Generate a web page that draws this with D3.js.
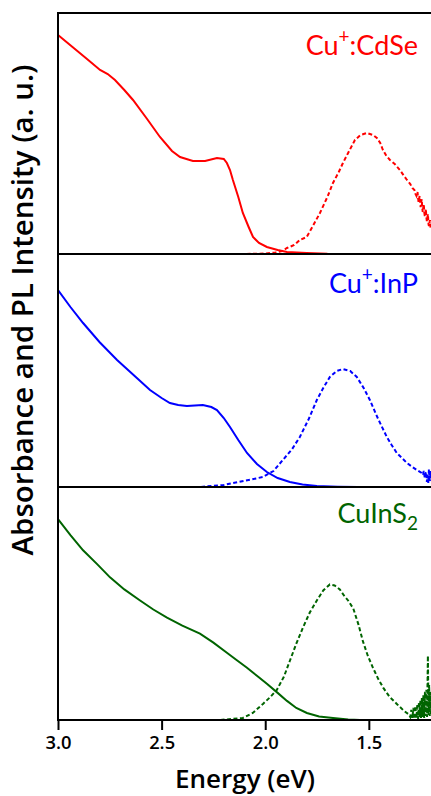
<!DOCTYPE html>
<html><head><meta charset="utf-8">
<script src="https://cdn.jsdelivr.net/npm/d3@7"></script>
<style>html,body{margin:0;padding:0;background:#fff;}svg{display:block;}</style>
</head><body>
<svg id="chart" width="431" height="796"></svg>
<script>
// ---- data (energy in eV, intensity in a.u.) ----
const xTicks = [3.0, 2.5, 2.0, 1.5];
const xTickLabels = ["3.0", "2.5", "2.0", "1.5"];
const panelColors = ["#ff0000", "#0000ff", "#006400"];
const panelMax = [2.41, 2.33, 2.32];

const cdseAbs = [[3.0,2.19],[2.93,2.07],[2.86,1.95],[2.797,1.84],[2.76,1.80],[2.725,1.74],[2.68,1.64],[2.638,1.54],[2.57,1.35],[2.508,1.17],[2.45,1.03],[2.411,0.97],[2.349,0.93],[2.29,0.93],[2.233,0.96],[2.20,0.95],[2.185,0.91],[2.17,0.84],[2.156,0.74],[2.13,0.57],[2.108,0.41],[2.08,0.27],[2.059,0.17],[2.03,0.11],[1.992,0.07],[1.94,0.04],[1.895,0.02],[1.80,0.01],[1.70,0.003],[1.553,0]];
const cdsePL = [[3.0,0],[2.5,0],[2.1,0],[2.0,0.005],[1.95,0.015],[1.92,0.03],[1.895,0.06],[1.86,0.09],[1.833,0.14],[1.80,0.17],[1.77,0.28],[1.736,0.41],[1.70,0.57],[1.673,0.71],[1.645,0.82],[1.625,0.91],[1.60,1.01],[1.567,1.14],[1.54,1.19],[1.509,1.21],[1.48,1.19],[1.461,1.16],[1.445,1.11],[1.432,1.04],[1.415,0.98],[1.398,0.94],[1.375,0.90],[1.35,0.84],[1.33,0.78],[1.316,0.74],[1.30,0.70],[1.29,0.66],[1.28,0.64],[1.275,0.60],[1.27,0.58],[1.265,0.62],[1.262,0.55],[1.26,0.52],[1.255,0.58],[1.252,0.50],[1.25,0.47],[1.245,0.55],[1.242,0.46],[1.24,0.42],[1.235,0.50],[1.232,0.41],[1.23,0.38],[1.225,0.45],[1.222,0.36],[1.22,0.33],[1.215,0.40],[1.212,0.30],[1.21,0.28],[1.205,0.34],[1.202,0.26],[1.2,0.24]];

const inpAbs = [[3.0,1.97],[2.94,1.80],[2.879,1.64],[2.80,1.45],[2.715,1.27],[2.63,1.11],[2.556,0.97],[2.50,0.89],[2.46,0.84],[2.42,0.82],[2.378,0.81],[2.34,0.815],[2.301,0.82],[2.26,0.80],[2.233,0.77],[2.20,0.69],[2.17,0.60],[2.13,0.47],[2.088,0.34],[2.04,0.23],[1.992,0.15],[1.94,0.09],[1.881,0.05],[1.82,0.025],[1.751,0.01],[1.65,0.003],[1.553,0]];
const inpPL = [[3.0,0],[2.5,0],[2.315,0],[2.2,0.02],[2.156,0.04],[2.08,0.07],[2.011,0.10],[1.96,0.16],[1.915,0.27],[1.87,0.38],[1.833,0.50],[1.79,0.68],[1.751,0.87],[1.72,0.99],[1.688,1.10],[1.655,1.16],[1.625,1.18],[1.59,1.16],[1.558,1.10],[1.525,0.99],[1.495,0.87],[1.455,0.68],[1.413,0.50],[1.39,0.42],[1.365,0.34],[1.34,0.29],[1.316,0.24],[1.29,0.20],[1.268,0.17],[1.245,0.14],[1.238,0.12],[1.235,0.16],[1.23,0.09],[1.228,0.13],[1.222,0.15],[1.22,0.05],[1.216,0.12],[1.213,0.04],[1.21,0.18],[1.207,0.08],[1.205,0.06],[1.203,0.16],[1.2,0.10]];

const cisAbs = [[3.0,2.00],[2.94,1.84],[2.879,1.69],[2.81,1.55],[2.749,1.42],[2.68,1.30],[2.604,1.19],[2.54,1.10],[2.474,1.02],[2.40,0.94],[2.315,0.86],[2.25,0.77],[2.185,0.67],[2.14,0.60],[2.088,0.52],[2.04,0.44],[1.992,0.36],[1.94,0.27],[1.895,0.19],[1.85,0.12],[1.799,0.07],[1.74,0.035],[1.673,0.02],[1.60,0.005],[1.543,0],[1.2,0]];
const cisPL = [[3.0,0],[2.5,0],[2.219,0],[2.16,0.01],[2.108,0.02],[2.06,0.07],[2.011,0.16],[1.975,0.23],[1.944,0.30],[1.91,0.43],[1.881,0.59],[1.85,0.76],[1.818,0.92],[1.785,1.07],[1.751,1.19],[1.72,1.29],[1.688,1.35],[1.665,1.34],[1.640,1.30],[1.62,1.24],[1.60,1.19],[1.575,1.11],[1.55,0.95],[1.528,0.78],[1.505,0.64],[1.48,0.52],[1.455,0.41],[1.43,0.32],[1.40,0.23],[1.365,0.16],[1.33,0.09],[1.31,0.06],[1.30,0.03],[1.295,0.10],[1.29,0.02],[1.285,0.12],[1.28,0.01],[1.276,0.14],[1.27,0.02],[1.266,0.16],[1.262,0.01],[1.258,0.18],[1.255,0.03],[1.251,0.20],[1.248,0.02],[1.244,0.22],[1.24,0.03],[1.237,0.25],[1.233,0.02],[1.229,0.28],[1.226,0.04],[1.222,0.30],[1.219,0.03],[1.215,0.64],[1.212,0.05],[1.209,0.35],[1.206,0.04],[1.203,0.28],[1.2,0.06]];

const absSeries = [cdseAbs, inpAbs, cisAbs];
const plSeries = [cdsePL, inpPL, cisPL];

// ---- layout ----
const svg = d3.select("#chart");
const left = 58, right = 431;
const bounds = [13, 254, 487, 720];
const font = "'Open Sans', Lato, sans-serif";
const labelFont = "Lato, 'Open Sans', sans-serif";

const x = d3.scaleLinear().domain([3.0, 1.2]).range([left, right]);

svg.append("defs").append("clipPath").attr("id","clip")
  .append("rect").attr("x", left).attr("y", 0).attr("width", right-left).attr("height", 796);

const g = svg.append("g");

for (let i = 0; i < 3; i++) {
  const y = d3.scaleLinear().domain([0, panelMax[i]]).range([bounds[i+1], bounds[i]]);
  const line = d3.line().x(d => x(d[0])).y(d => y(d[1]));
  const pg = g.append("g").attr("clip-path", "url(#clip)");
  g.append("line").attr("x1", left).attr("x2", right)
    .attr("y1", bounds[i+1]).attr("y2", bounds[i+1])
    .attr("stroke", "#000").attr("stroke-width", 2);
  pg.append("path").datum(plSeries[i]).attr("d", line)
    .attr("fill","none").attr("stroke", panelColors[i]).attr("stroke-width", 2)
    .attr("stroke-dasharray", "4,2.5");
  pg.append("path").datum(absSeries[i]).attr("d", line)
    .attr("fill","none").attr("stroke", panelColors[i]).attr("stroke-width", 2);
}

g.append("line").attr("x1", left).attr("x2", right).attr("y1", bounds[0]).attr("y2", bounds[0])
  .attr("stroke","#000").attr("stroke-width",2);
g.append("line").attr("x1", left).attr("x2", left).attr("y1", bounds[0]-1).attr("y2", bounds[3]+1)
  .attr("stroke","#000").attr("stroke-width",2);

function fit(sel, target, base) {
  const node = sel.node();
  const w = node.getComputedTextLength();
  if (w > 0) sel.style("font-size", (base * target / w).toFixed(2) + "px");
}

// bottom axis
const xAxis = d3.axisBottom(x).tickValues(xTicks)
  .tickFormat((d,i) => xTickLabels[i]).tickSize(10).tickPadding(6);
const ax = svg.append("g").attr("transform", `translate(0,${bounds[3]})`).call(xAxis);
ax.select(".domain").remove();
ax.selectAll(".tick line").attr("stroke","#000").attr("stroke-width",2);
ax.selectAll(".tick text").attr("fill","#000").style("font-family", font)
  .style("font-size","18px").style("font-weight","600");
{
  const first = ax.select(".tick text");
  const w = first.node().getComputedTextLength();
  const fs = (18 * 26 / w).toFixed(2);
  ax.selectAll(".tick text").style("font-size", fs + "px");
}

// panel labels
const labelBase = [55, 293, 523];
function cuLabel(i, rest) {
  const t = svg.append("text").attr("x", 418).attr("y", labelBase[i]).attr("text-anchor","end")
    .attr("fill", panelColors[i]).style("font-family", labelFont).style("font-size","27px");
  t.append("tspan").text("Cu");
  t.append("tspan").text("+").attr("dy", -12).style("font-size","19px");
  t.append("tspan").text(rest).attr("dy", 12);
}
cuLabel(0, ":CdSe");
cuLabel(1, ":InP");
{
  const t = svg.append("text").attr("x", 418).attr("y", labelBase[2]).attr("text-anchor","end")
    .attr("fill", panelColors[2]).style("font-family", labelFont).style("font-size","27px");
  t.append("tspan").text("CuInS");
  t.append("tspan").text("2").attr("dy", 7).style("font-size","19px");
}

// axis titles
const xt = svg.append("text").attr("x", 245).attr("y", 788).attr("text-anchor","middle")
  .style("font-family", font).style("font-size","22px").style("font-weight","600").text("Energy (eV)");
fit(xt, 140, 22);
const yt = svg.append("text").attr("transform","translate(33,310) rotate(-90)").attr("text-anchor","middle")
  .style("font-family", font).style("font-size","24px").style("font-weight","600")
  .text("Absorbance and PL Intensity (a. u.)");
fit(yt, 491, 24);
</script>
</body></html>
